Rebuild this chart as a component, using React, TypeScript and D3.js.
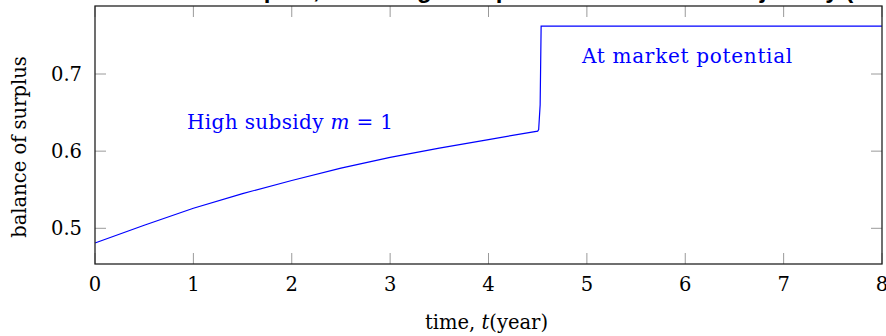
import React from "react";
import * as d3 from "d3";

const W = 886;
const H = 336;

const title = "Evolution of the balance of surplus, following the optimal market share trajectory (m = 1)";
const yLabel = "balance of surplus";
const xTicks = [0, 1, 2, 3, 4, 5, 6, 7, 8];
const yTicks = [0.5, 0.6, 0.7];
const yTickLabels = ["0.5", "0.6", "0.7"];

// time (years)
const times = [0, 0.5, 1, 1.5, 2, 2.5, 3, 3.5, 4, 4.5, 4.51, 4.525, 4.535, 8];
// balance of surplus
const surplus = [0.481, 0.504, 0.526, 0.545, 0.562, 0.578, 0.592, 0.604, 0.615, 0.626, 0.628, 0.66, 0.762, 0.762];

const labelHigh = "High subsidy ";
const labelMarket = "At market potential";

export default function App() {
  const left = 95, right = 882, top = 6, bottom = 264;
  const x = d3.scaleLinear().domain([0, 8]).range([left, right]);
  const y = d3.scaleLinear().domain([0.5, 0.7]).range([228.3, 74]);
  const pts = times.map((t, i) => [t, surplus[i]] as [number, number]);
  const line = d3.line<[number, number]>().x(d => x(d[0])).y(d => y(d[1]));
  const serif = "'DejaVu Serif', serif";
  const fs = 19.5;
  const tl = 11;
  return (
    <svg width={W} height={H} style={{ position: "absolute", left: 0, top: 0, background: "#fff" }}>
      <text x={-87} y={-2.5} fontFamily="'Liberation Sans', Arial, sans-serif" fontWeight="bold" fontSize={24} fill="#000">{title}</text>
      {xTicks.map(t => (
        <g key={"x" + t}>
          <line x1={x(t)} x2={x(t)} y1={bottom} y2={bottom - tl} stroke="#9a9a9a" strokeWidth={1} />
          <line x1={x(t)} x2={x(t)} y1={top} y2={top + tl} stroke="#9a9a9a" strokeWidth={1} />
          <text x={x(t)} y={291} textAnchor="middle" fontFamily={serif} fontSize={fs} fill="#000">{t}</text>
        </g>
      ))}
      {yTicks.map((v, i) => (
        <g key={"y" + v}>
          <line x1={left} x2={left + tl} y1={y(v)} y2={y(v)} stroke="#9a9a9a" strokeWidth={1} />
          <line x1={right} x2={right - tl} y1={y(v)} y2={y(v)} stroke="#9a9a9a" strokeWidth={1} />
          <text x={82} y={y(v) + 7} textAnchor="end" fontFamily={serif} fontSize={fs} fill="#000">{yTickLabels[i]}</text>
        </g>
      ))}
      <path d={line(pts) || ""} fill="none" stroke="#0000ff" strokeWidth={1.2} />
      <rect x={left} y={top} width={right - left} height={bottom - top} fill="none" stroke="#222" strokeWidth={1.3} />
      <text x={187} y={129} fontFamily={serif} fontSize={20} letterSpacing={0.35} fill="#0000ff">
        {labelHigh}<tspan fontStyle="italic">m</tspan>{" = 1"}
      </text>
      <text x={582} y={63} fontFamily={serif} fontSize={20} letterSpacing={0.7} fill="#0000ff">{labelMarket}</text>
      <text transform={`translate(26,147) rotate(-90)`} textAnchor="middle" fontFamily={serif} fontSize={fs} fill="#000">{yLabel}</text>
      <text x={486.5} y={329} textAnchor="middle" fontFamily={serif} fontSize={fs} fill="#000">
        {"time, "}<tspan fontStyle="italic">t</tspan>{"(year)"}
      </text>
    </svg>
  );
}
